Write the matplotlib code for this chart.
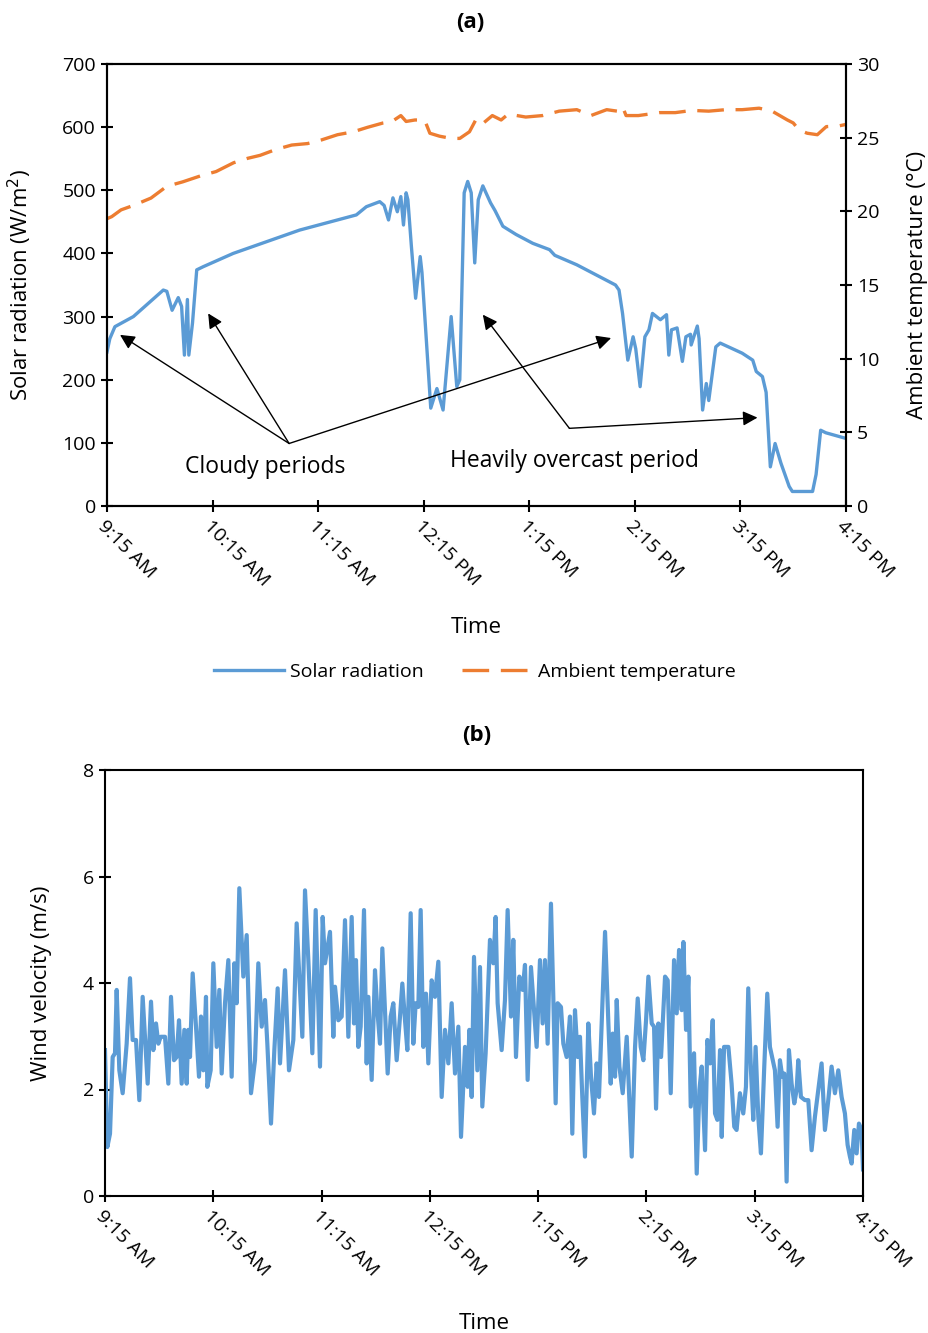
import matplotlib
matplotlib.use("Agg")
import matplotlib.pyplot as plt

plt.rcParams['font.family'] = ['Open Sans', 'DejaVu Sans']

# ---------------- data ----------------
tick_minutes = [0, 60, 120, 180, 240, 300, 360, 420]
tick_labels = ["9:15 AM", "10:15 AM", "11:15 AM", "12:15 PM",
               "1:15 PM", "2:15 PM", "3:15 PM", "4:15 PM"]

solar_t = [0, 1.6, 4.5, 15, 32, 34, 37, 40.5, 42.4, 44, 45.7, 46.5, 48.6, 51, 54.7,
           71.7, 109.5, 141.7, 147.4, 155, 157.5, 160, 162.5, 165, 167, 168.5, 170,
           171, 173, 175.4, 178, 179, 184, 187.5, 191, 195.6, 198.8, 200.5, 203, 205,
           207, 209, 211, 213.6, 218, 220.5, 225, 232.5, 242, 251.5, 254.5, 267, 278,
           289, 291, 293, 296, 299, 300.5, 303, 305.7, 308, 310, 314.5, 318, 319.3,
           320.8, 324, 327, 329, 331.6, 332, 335.5, 336.5, 338.5, 340.6, 342, 346,
           348.5, 361, 367, 369, 372.5, 374.6, 377, 379.7, 383, 387.7, 389.5, 401,
           403, 405.6, 408.5, 420]
solar_w = [244, 265, 284, 300, 342, 340, 310, 330, 316, 239, 327, 239, 290, 374, 379,
           400, 437, 461, 474, 482, 476, 453, 488, 466, 490, 445, 496,
           485, 411, 329, 395, 370, 155, 186, 152, 300, 189, 200, 496, 514,
           496, 385, 485, 507, 480, 468, 443, 430, 416, 406, 397, 382, 366,
           350, 342, 305, 231, 268, 249, 189, 268, 279, 305, 295, 303, 239,
           279, 282, 229, 268, 272, 255, 285, 265, 152, 194, 167, 252,
           258, 242, 231, 213, 205, 180, 62, 99, 68, 31, 23, 23,
           50, 120, 116, 107]

temp_t = [0, 2.7, 8, 15, 25, 34, 43, 53, 62, 72, 80, 87, 96, 105, 114, 122, 131, 140,
          148, 157, 162, 167, 170, 175, 180.5, 183.5, 189, 195.6, 200.5, 206, 210, 214,
          219, 224, 228, 238, 247.5, 257, 267, 275, 284, 290, 293, 295, 302, 314, 323,
          332.5, 342, 351.6, 361, 370.6, 378, 386.7, 390, 393.5, 398, 403.7, 408.8,
          416, 420]
temp_c = [19.5, 19.64, 20.1, 20.4, 20.9, 21.7, 22.0, 22.4, 22.7, 23.3, 23.6, 23.8, 24.2,
          24.5, 24.6, 24.85, 25.2, 25.4, 25.7, 26.0, 26.1, 26.5, 26.1, 26.2, 26.2, 25.3,
          25.1, 24.95, 24.95, 25.4, 26.3, 26.0, 26.5, 26.2, 26.6, 26.4, 26.5, 26.8, 26.9,
          26.5, 26.9, 26.8, 27.1, 26.5, 26.5, 26.7, 26.7, 26.85, 26.8, 26.9, 26.9, 27.0,
          26.8, 26.2, 26.0, 25.5, 25.3, 25.2, 25.75, 25.8, 25.9]

wind_t = [0.0, 1.29, 2.77, 4.25, 5.54, 6.47, 7.94, 9.79, 12.0, 13.85, 15.33, 17.18,
          19.02, 20.87, 22.16, 23.64, 25.49, 26.78, 28.26, 29.55, 30.85, 33.25, 35.1,
          36.57, 38.23, 39.71, 41.0, 42.48, 43.96, 45.25, 46.17, 47.1, 48.58, 50.42,
          52.08, 53.19, 54.49, 55.96, 56.7, 58.55, 60.03, 61.88, 63.35, 64.65, 66.49,
          68.34,
          70.18, 71.66, 72.95, 74.43, 76.65, 78.5, 80.9, 83.11, 84.96, 86.81, 88.65,
          89.95, 91.98, 93.83, 95.67, 96.97, 99.74, 101.95, 104.35, 106.2, 107.5,
          109.34, 110.82, 112.67, 114.88, 116.73, 119.13, 120.61, 121.9, 124.67,
          126.52, 127.44, 129.29, 131.14, 132.98, 134.83, 136.68,
          137.97, 139.07, 140.37, 141.66, 143.51, 144.99, 145.91, 147.76, 149.6,
          150.9, 152.37, 153.67, 155.14, 156.62, 158.28, 159.76, 161.61, 163.46,
          164.75, 166.23, 167.52, 169.37, 170.84, 172.14, 173.61, 174.91, 176.38,
          177.86, 179.15, 181.0, 182.85, 184.7, 186.54, 188.39, 190.24, 192.08,
          193.93, 195.78, 197.26, 199.47, 200.95, 201.87, 203.17, 204.46, 206.31,
          207.78,
          209.06, 210.91, 213.31, 215.16, 216.45, 217.56, 219.78, 221.62, 223.1,
          224.95, 226.24, 227.72, 229.57, 231.41, 232.71, 234.18, 236.03, 239.17,
          241.02, 242.49, 243.79, 245.26, 247.11, 248.4, 249.7, 250.8, 252.65,
          253.95, 255.79, 257.64, 258.93, 260.41, 261.89, 263.18, 264.47, 265.95,
          267.8, 269.28, 270.94, 272.42, 273.71,
          277.07, 278.92, 280.21, 281.32, 282.61, 283.54, 285.01, 286.86, 289.08,
          291.85, 293.69, 295.17, 296.83, 298.31, 299.79, 301.08, 302.93, 304.22,
          305.33, 306.62, 308.1, 310.32, 311.79, 313.46, 315.3, 316.78, 318.07,
          319.55, 320.48, 321.95, 323.25, 324.54, 326.39, 327.86, 329.34, 330.63,
          332.48, 333.77, 335.25, 336.73, 338.02, 339.31, 340.79, 341.72, 343.01,
          345.41,
          347.19, 348.67, 349.96, 351.81, 353.66, 355.14, 356.43, 357.91, 359.2,
          360.49, 361.97, 363.45, 365.29, 366.96, 368.43, 371.21, 372.68, 373.98,
          375.27, 376.38, 377.67, 378.96, 380.44, 381.92, 383.21, 384.13, 385.61,
          387.83, 389.68, 391.52, 393.37, 395.22, 397.06, 398.91, 400.76, 402.6,
          404.45, 406.3, 408.15, 409.99, 411.47, 412.76, 413.69, 415.16, 416.46,
          417.75, 419.23, 420.0]
wind_v = [2.74, 0.92, 1.17, 2.61, 2.68, 3.87, 2.36, 1.93, 2.86, 4.09, 2.93, 2.93,
          1.80, 3.74, 2.99, 2.11, 3.65, 2.74, 3.24, 2.86, 2.99, 2.99, 2.11,
          3.74, 2.55, 2.61, 3.30, 2.11, 3.12, 2.11, 3.12, 2.61, 4.18, 3.18,
          2.24, 3.37, 2.36, 3.74, 2.05, 2.36, 4.37, 2.80, 3.87, 2.30, 3.62,
          4.43,
          2.24, 4.37, 3.62, 5.78, 4.12, 4.90, 1.93, 2.55, 4.37, 3.18, 3.68,
          2.86, 1.36, 2.74, 3.90, 2.49, 4.24, 2.36, 2.93, 5.12, 4.24,
          2.99, 5.74, 4.43, 2.68, 5.37, 2.43, 5.24, 4.37, 4.96,
          2.99, 3.93, 3.30, 3.37, 5.18, 2.99, 5.24,
          3.24, 4.43, 2.80, 3.18, 5.37, 2.49, 3.74, 2.18, 4.24,
          3.49, 2.86, 4.65, 3.49, 2.30, 3.37, 3.62, 2.55, 3.37,
          3.99, 3.30, 2.74, 5.31, 2.86, 3.62, 3.55, 5.37, 2.80,
          3.80, 2.49, 4.05, 3.74, 4.40, 1.86, 3.12, 2.49, 3.62,
          2.30, 3.18, 1.11, 2.80, 2.05, 3.12, 1.86, 4.49, 2.36,
          4.30,
          1.68, 2.68, 4.81, 4.37, 5.24, 3.62, 2.74, 3.68, 5.37,
          3.37, 4.81, 2.61, 4.12, 3.87, 4.34, 2.18, 4.30, 2.80,
          4.43, 3.24, 4.43, 2.86, 5.49, 3.74, 1.74, 3.62, 3.55,
          2.86, 2.61, 3.37, 1.17, 3.49, 2.61, 2.99, 1.86, 0.74,
          3.24, 2.24, 1.55, 2.49, 1.86,
          4.96, 3.24, 2.11, 3.05, 2.24, 3.68, 2.43, 1.93, 2.99,
          0.74, 2.80, 3.71, 2.80, 2.55, 3.30, 4.12, 3.24, 3.18,
          1.64, 3.24, 2.61, 4.12, 4.05, 1.93, 4.43, 3.43, 4.62,
          3.49, 4.77, 3.12, 4.12, 1.68, 2.68, 0.42, 1.99, 2.43,
          0.86, 2.93, 2.49, 3.30, 1.55, 1.43, 2.74, 1.11, 2.80,
          2.80,
          2.11, 1.30, 1.24, 1.93, 1.55, 2.05, 3.90, 2.36, 1.43,
          2.80, 1.49, 0.80, 2.43, 3.80, 2.80, 2.36, 1.30, 2.55,
          2.24, 2.30, 0.27, 2.74, 2.11, 1.74, 1.99, 2.55, 1.86,
          1.80, 1.80, 0.86, 1.49, 1.99, 2.49, 1.24, 1.80, 2.43,
          1.93, 2.36, 1.86, 1.55, 0.96, 0.74, 0.61, 1.24, 0.80,
          1.36, 1.24, 0.50]

# ---------------- style ----------------
BLUE = '#5B9BD5'
ORANGE = '#ED7D31'
TICK_FS = 14
LABEL_FS = 16
ANN_FS = 16.5
LEG_FS = 14

fig = plt.figure(figsize=(9.29, 13.33), dpi=100)

def style_axis(ax):
    for s in ax.spines.values():
        s.set_linewidth(1.5)
        s.set_color('black')
    ax.tick_params(direction='inout', length=9, width=1.5, labelsize=TICK_FS,
                   colors='black')
    ax.set_xticks(tick_minutes)
    ax.set_xticklabels(tick_labels, rotation=-45, ha='left', va='top',
                       rotation_mode='anchor')
    ax.set_xlim(0, 420)

# ---------------- panel (a) ----------------
ax1 = fig.add_axes([107/929, 1-506/1333, (846-107)/929, (506-64)/1333])
style_axis(ax1)
l1, = ax1.plot(solar_t, solar_w, color=BLUE, lw=2.4, label='Solar radiation')
ax1.set_ylim(0, 700)
ax1.set_yticks(range(0, 701, 100))
ax1.set_ylabel('Solar radiation (W/m$^2$)', fontsize=LABEL_FS, labelpad=20)
ax1.set_xlabel('Time', fontsize=LABEL_FS, labelpad=20)

ax2 = ax1.twinx()
l2, = ax2.plot(temp_t, temp_c, color=ORANGE, lw=2.4, dashes=(8, 3.5),
               label='Ambient temperature')
ax2.set_ylim(0, 30)
ax2.set_yticks(range(0, 31, 5))
ax2.tick_params(direction='inout', length=9, width=1.5, labelsize=TICK_FS)
ax2.set_ylabel('Ambient temperature (°C)', fontsize=LABEL_FS, labelpad=20)
for s in ax2.spines.values():
    s.set_linewidth(1.5)

fig.text(470/929, 1-22/1333, '(a)', fontsize=16, fontweight='bold',
         ha='center', va='center')

arrow_kw = dict(arrowstyle='-|>', color='black', lw=1, mutation_scale=22,
                shrinkA=0, shrinkB=0)
cloudy_origin = (103.5, 99)
for head in [(7.4, 271), (57.5, 305), (286.5, 266)]:
    ax1.annotate('', xy=head, xytext=cloudy_origin, arrowprops=arrow_kw)
overcast_origin = (262.8, 123)
for head in [(213.6, 303), (369.7, 140)]:
    ax1.annotate('', xy=head, xytext=overcast_origin, arrowprops=arrow_kw)
ax1.text(89.7, 62, 'Cloudy periods', fontsize=ANN_FS, ha='center', va='center')
ax1.text(265.6, 71, 'Heavily overcast period', fontsize=ANN_FS, ha='center',
         va='center')

fig.legend([l1, l2], ['Solar radiation', 'Ambient temperature'],
           loc='center', bbox_to_anchor=(475/929, 1-672/1333), ncol=2,
           frameon=False, fontsize=LEG_FS, handlelength=3.6, columnspacing=2.0,
           handletextpad=0.3)

# ---------------- panel (b) ----------------
ax3 = fig.add_axes([105/929, 1-1196/1333, (863-105)/929, (1196-770)/1333])
style_axis(ax3)
ax3.plot(wind_t, wind_v, color=BLUE, lw=3.0)
ax3.set_ylim(0, 8)
ax3.set_yticks(range(0, 9, 2))
ax3.set_ylabel('Wind velocity (m/s)', fontsize=LABEL_FS, labelpad=22)
ax3.set_xlabel('Time', fontsize=LABEL_FS, labelpad=24)
fig.text(477/929, 1-735/1333, '(b)', fontsize=16, fontweight='bold',
         ha='center', va='center')

fig.savefig('out.png', dpi=100)
